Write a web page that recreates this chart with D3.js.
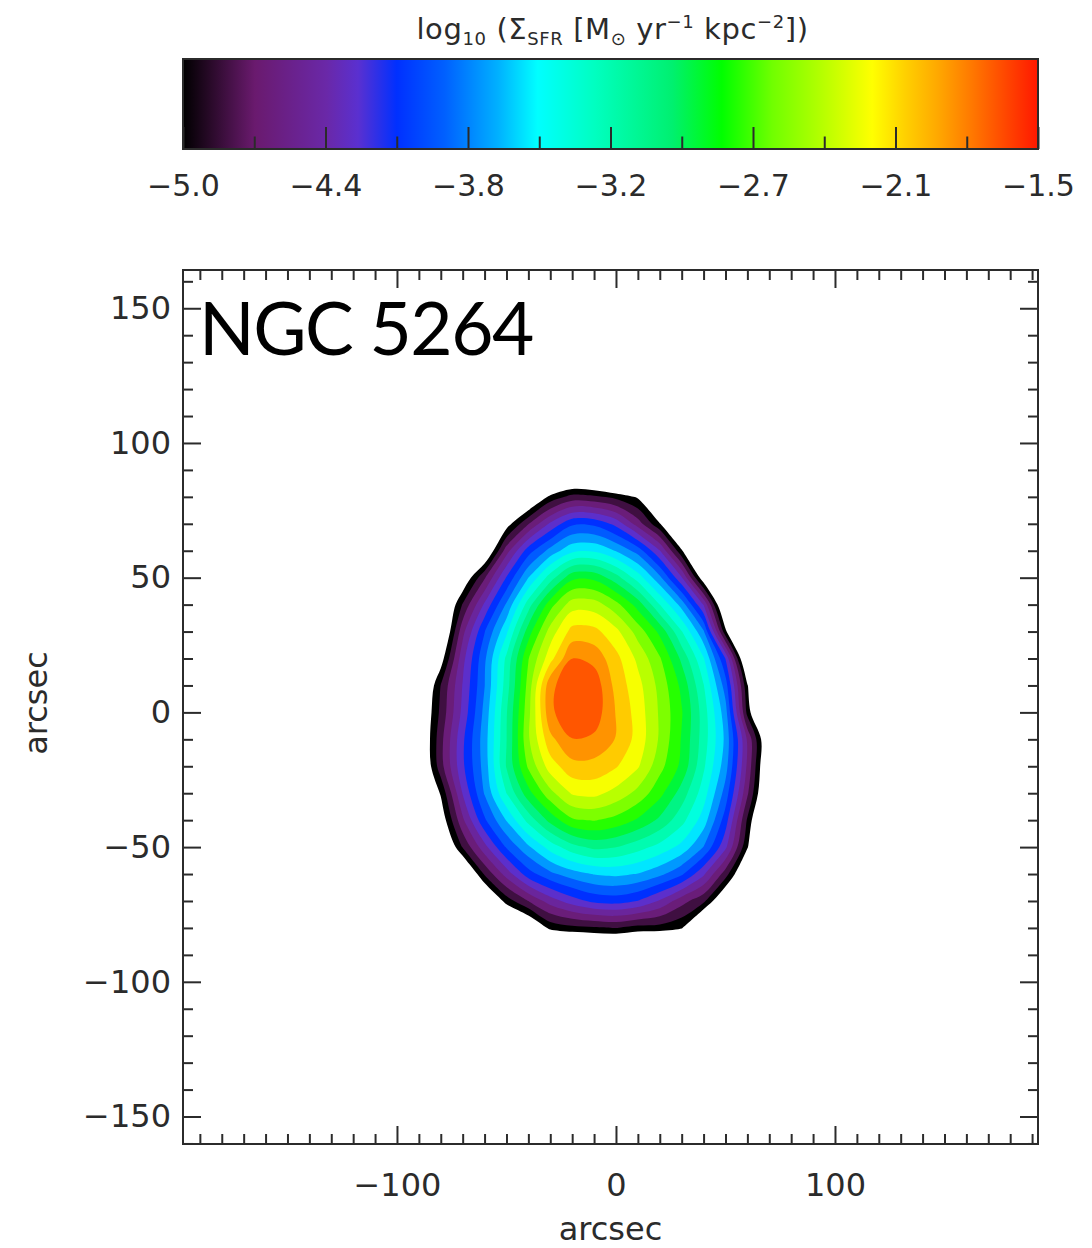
<!DOCTYPE html>
<html>
<head>
<meta charset="utf-8">
<title>NGC 5264 star formation rate surface density</title>
<script src="https://cdn.jsdelivr.net/npm/d3@7/dist/d3.min.js"></script>
<style>
  html, body { margin: 0; padding: 0; background: #ffffff; }
  svg { display: block; }
</style>
</head>
<body>
<svg id="chart" width="1092" height="1248" viewBox="0 0 1092 1248"></svg>
<script>
// ---------------------------------------------------------------- data
const galaxyName = "NGC 5264";

// map sampling positions, arcsec offsets from the optical centre
const gridX = [-90, -80, -70, -60, -50, -40, -30, -20, -10, 0, 10, 20, 30, 40, 50, 60, 70];
const gridY = [90, 80, 70, 60, 50, 40, 30, 20, 10, 0, -10, -20, -30, -40, -50, -60, -70, -80, -90];

// log10 Sigma_SFR [Msun yr^-1 kpc^-2]; one row per gridY entry, one column per gridX entry
const logSigmaSFR = [
  [-7.0, -7.0, -7.0, -7.0, -6.3, -6.0, -5.78, -5.58, -5.64, -5.85, -6.2, -6.6, -7.0, -7.0, -7.0, -7.0, -7.0],
  [-7.0, -7.0, -6.8, -6.15, -5.73, -5.34, -4.95, -4.76, -4.79, -4.88, -5.03, -5.8, -6.3, -6.8, -7.0, -7.0, -7.0],
  [-7.0, -6.6, -6.1, -5.6, -5.1, -4.66, -4.27, -3.98, -3.99, -4.18, -4.56, -4.98, -5.6, -6.2, -7.0, -7.0, -7.0],
  [-7.0, -6.13, -5.64, -5.3, -4.55, -4.03, -3.71, -3.47, -3.45, -3.61, -3.85, -4.29, -4.97, -5.7, -6.4, -7.0, -7.0],
  [-6.2, -5.69, -5.2, -4.67, -4.11, -3.6, -3.16, -2.77, -2.77, -3.0, -3.33, -3.73, -4.28, -5.15, -5.85, -6.6, -7.0],
  [-5.87, -5.4, -4.81, -4.27, -3.75, -3.16, -2.62, -2.28, -2.29, -2.49, -2.8, -3.25, -3.67, -4.31, -5.4, -6.1, -6.8],
  [-5.6, -5.35, -4.53, -3.96, -3.46, -2.81, -2.3, -1.96, -1.97, -2.15, -2.45, -2.77, -3.24, -3.75, -4.95, -5.9, -6.6],
  [-5.43, -5.1, -4.36, -3.81, -3.21, -2.56, -2.09, -1.676, -1.73, -1.97, -2.24, -2.53, -2.94, -3.41, -4.13, -5.4, -6.3],
  [-5.4, -4.82, -4.29, -3.78, -3.16, -2.48, -1.72, -1.55, -1.56, -1.91, -2.14, -2.43, -2.77, -3.24, -3.86, -4.98, -5.9],
  [-5.3, -4.78, -4.25, -3.72, -3.09, -2.43, -1.71, -1.55, -1.57, -1.86, -2.1, -2.4, -2.71, -3.16, -3.7, -4.88, -5.7],
  [-5.3, -4.71, -4.16, -3.68, -3.08, -2.4, -1.9, -1.68, -1.71, -1.86, -2.09, -2.4, -2.74, -3.16, -3.64, -4.5, -5.3],
  [-5.35, -4.72, -4.16, -3.7, -3.06, -2.52, -2.11, -1.91, -1.91, -2.01, -2.18, -2.49, -2.77, -3.22, -3.7, -4.51, -5.35],
  [-5.4, -4.98, -4.29, -3.76, -3.25, -2.79, -2.43, -2.18, -2.15, -2.26, -2.43, -2.67, -2.98, -3.34, -3.85, -4.62, -5.4],
  [-5.58, -5.15, -4.51, -3.98, -3.59, -3.19, -2.84, -2.58, -2.54, -2.61, -2.75, -2.94, -3.19, -3.51, -4.04, -4.85, -5.6],
  [-5.9, -5.4, -4.81, -4.36, -3.93, -3.63, -3.35, -3.14, -3.03, -3.07, -3.18, -3.31, -3.48, -3.78, -4.26, -4.98, -5.7],
  [-6.3, -5.66, -5.4, -4.8, -4.4, -4.03, -3.82, -3.68, -3.59, -3.56, -3.61, -3.73, -3.92, -4.27, -4.74, -5.35, -6.0],
  [-6.5, -6.2, -5.6, -5.4, -4.92, -4.65, -4.39, -4.21, -4.08, -4.05, -4.13, -4.32, -4.58, -4.78, -5.3, -6.0, -6.5],
  [-6.8, -6.5, -6.2, -6.0, -5.58, -5.3, -4.95, -4.88, -4.85, -4.82, -4.89, -4.9, -4.98, -5.5, -6.0, -6.5, -6.8],
  [-7.0, -7.0, -6.8, -6.6, -6.3, -6.0, -5.8, -5.7, -5.66, -5.66, -5.7, -5.75, -5.85, -6.2, -6.6, -7.0, -7.0]
];

// filled levels; everything below the first level is left blank
const contourLevels = [-5.0, -4.825, -4.65, -4.475, -4.3, -4.125, -3.95, -3.775, -3.6, -3.425,
                       -3.25, -3.075, -2.9, -2.725, -2.55, -2.375, -2.2, -2.025, -1.85, -1.675];

// colour bar
const colorRange = [-5.0, -1.5];
const colorTickLabels = ["\u22125.0", "\u22124.4", "\u22123.8", "\u22123.2", "\u22122.7", "\u22122.1", "\u22121.5"];

// colour table (rainbow with black floor)
const tableValues = [-5.0, -4.885, -4.706, -4.412, -4.283, -4.125, -3.929, -3.712, -3.548, -3.313,
                     -2.998, -2.795, -2.588, -2.4, -2.179, -2.043, -1.91, -1.77, -1.636, -1.5];
const tableColors = ["#000000", "#2a0a2a", "#6a1a6e", "#6a28a8", "#5a30d0", "#0030ff", "#0060ff", "#00b0ff", "#00ffff", "#00ffc0",
                     "#00f070", "#00ff00", "#70ff00", "#b0ff00", "#ffff00", "#ffd000", "#ffa800", "#ff7800", "#ff4800", "#ff1800"];

// map axes (arcsec)
const xExtent = [-197.7, 192.7];
const yExtent = [-160.2, 164.2];
const xMajorTicks = [-100, 0, 100];
const yMajorTicks = [-150, -100, -50, 0, 50, 100, 150];
const xMinorTicks = d3.range(-190, 191, 10).filter(v => !xMajorTicks.includes(v));
const yMinorTicks = d3.range(-160, 161, 10).filter(v => !yMajorTicks.includes(v));
const axisTitle = "arcsec";

// ---------------------------------------------------------------- layout
const ink = "#2b2b2b";
const labelFont = "DejaVu Sans, sans-serif";
const plot = { left: 183, right: 1038, top: 270, bottom: 1144 };
const bar = { left: 183, right: 1038, top: 59, bottom: 149 };

const svg = d3.select("#chart");

const x = d3.scaleLinear().domain(xExtent).range([plot.left, plot.right]);
const y = d3.scaleLinear().domain(yExtent).range([plot.bottom, plot.top]);
const color = d3.scaleLinear().domain(tableValues).range(tableColors).interpolate(d3.interpolateRgb).clamp(true);
const cbar = d3.scaleLinear().domain(colorRange).range([bar.left, bar.right]);

// ---------------------------------------------------------------- map
const defs = svg.append("defs");
defs.append("clipPath").attr("id", "plotClip")
  .append("rect")
  .attr("x", plot.left).attr("y", plot.top)
  .attr("width", plot.right - plot.left).attr("height", plot.bottom - plot.top);

const nx = gridX.length, ny = gridY.length;
const stepX = gridX[1] - gridX[0], stepY = gridY[1] - gridY[0];
const bands = d3.contours()
  .size([nx, ny])
  .thresholds(contourLevels)(logSigmaSFR.flat());

// contour coordinates put sample i at i + 0.5
const ringLine = d3.line()
  .x(p => x(gridX[0] + (p[0] - 0.5) * stepX))
  .y(p => y(gridY[0] + (p[1] - 0.5) * stepY))
  .curve(d3.curveCatmullRomClosed.alpha(0.5));

const bandPath = geom => geom.coordinates
  .map(poly => poly.map(ring => ringLine(ring.slice(0, -1))).join(""))
  .join("");

svg.append("g")
  .attr("clip-path", "url(#plotClip)")
  .selectAll("path")
  .data(bands.filter(b => b.coordinates.length))
  .join("path")
  .attr("d", bandPath)
  .attr("fill", d => color(d.value))
  .attr("fill-rule", "evenodd");

// ---------------------------------------------------------------- map frame and axes
function styleAxis(g, size) {
  g.attr("color", ink).attr("font-family", labelFont).attr("font-size", size);
  g.select(".domain").remove();
  g.selectAll("line").attr("stroke-width", 2);
  g.selectAll("text").attr("fill", ink);
}

const majorLen = 18, minorLen = 10;

// bottom
svg.append("g").attr("transform", `translate(0,${plot.bottom})`)
  .call(d3.axisBottom(x).tickValues(xMinorTicks).tickSize(-minorLen).tickFormat(""))
  .call(g => styleAxis(g, 32));
svg.append("g").attr("transform", `translate(0,${plot.bottom})`)
  .call(d3.axisBottom(x).tickValues(xMajorTicks).tickSize(-majorLen).tickPadding(29))
  .call(g => styleAxis(g, 32));
// top
svg.append("g").attr("transform", `translate(0,${plot.top})`)
  .call(d3.axisTop(x).tickValues(xMinorTicks).tickSize(-minorLen).tickFormat(""))
  .call(g => styleAxis(g, 32));
svg.append("g").attr("transform", `translate(0,${plot.top})`)
  .call(d3.axisTop(x).tickValues(xMajorTicks).tickSize(-majorLen).tickFormat(""))
  .call(g => styleAxis(g, 32));
// left
svg.append("g").attr("transform", `translate(${plot.left},0)`)
  .call(d3.axisLeft(y).tickValues(yMinorTicks).tickSize(-minorLen).tickFormat(""))
  .call(g => styleAxis(g, 32));
svg.append("g").attr("transform", `translate(${plot.left},0)`)
  .call(d3.axisLeft(y).tickValues(yMajorTicks).tickSize(-majorLen).tickPadding(12))
  .call(g => styleAxis(g, 32));
// right
svg.append("g").attr("transform", `translate(${plot.right},0)`)
  .call(d3.axisRight(y).tickValues(yMinorTicks).tickSize(-minorLen).tickFormat(""))
  .call(g => styleAxis(g, 32));
svg.append("g").attr("transform", `translate(${plot.right},0)`)
  .call(d3.axisRight(y).tickValues(yMajorTicks).tickSize(-majorLen).tickFormat(""))
  .call(g => styleAxis(g, 32));

svg.append("rect")
  .attr("x", plot.left).attr("y", plot.top)
  .attr("width", plot.right - plot.left).attr("height", plot.bottom - plot.top)
  .attr("fill", "none").attr("stroke", ink).attr("stroke-width", 2);

// axis titles
svg.append("text")
  .attr("x", (plot.left + plot.right) / 2).attr("y", 1240)
  .attr("text-anchor", "middle")
  .attr("font-family", labelFont).attr("font-size", 32).attr("fill", ink)
  .text(axisTitle);
svg.append("text")
  .attr("transform", `translate(47,${(plot.top + plot.bottom) / 2 - 4}) rotate(-90)`)
  .attr("text-anchor", "middle")
  .attr("font-family", labelFont).attr("font-size", 32).attr("fill", ink)
  .text(axisTitle);

// galaxy name
svg.append("text")
  .attr("x", 199).attr("y", 355)
  .attr("font-family", "Lato, 'Open Sans', sans-serif")
  .attr("font-size", 73).attr("letter-spacing", -1.5).attr("fill", "#000")
  .text(galaxyName);

// ---------------------------------------------------------------- colour bar
const grad = defs.append("linearGradient")
  .attr("id", "barGrad").attr("x1", "0%").attr("x2", "100%").attr("y1", "0%").attr("y2", "0%");
grad.selectAll("stop")
  .data(tableValues)
  .join("stop")
  .attr("offset", v => (cbar(v) - bar.left) / (bar.right - bar.left))
  .attr("stop-color", v => color(v));

svg.append("rect")
  .attr("x", bar.left).attr("y", bar.top)
  .attr("width", bar.right - bar.left).attr("height", bar.bottom - bar.top)
  .attr("fill", "url(#barGrad)");

const nTicks = colorTickLabels.length;
const barStep = (colorRange[1] - colorRange[0]) / (nTicks - 1);
const barMajor = colorTickLabels.map((_, i) => colorRange[0] + i * barStep);
const barMinor = barMajor.slice(0, -1).map(v => v + barStep / 2);

svg.append("g").attr("transform", `translate(0,${bar.bottom})`)
  .call(d3.axisBottom(cbar).tickValues(barMinor).tickSize(-12.5).tickFormat(""))
  .call(g => styleAxis(g, 30));
svg.append("g").attr("transform", `translate(0,${bar.bottom})`)
  .call(d3.axisBottom(cbar).tickValues(barMajor).tickSize(-22).tickPadding(26)
    .tickFormat((d, i) => colorTickLabels[i]))
  .call(g => styleAxis(g, 30));

svg.append("rect")
  .attr("x", bar.left).attr("y", bar.top)
  .attr("width", bar.right - bar.left).attr("height", bar.bottom - bar.top)
  .attr("fill", "none").attr("stroke", ink).attr("stroke-width", 2);

// colour bar title: log10 (Sigma_SFR [Msun yr^-1 kpc^-2])
const title = svg.append("text")
  .attr("x", (bar.left + bar.right) / 2 + 2).attr("y", 39)
  .attr("text-anchor", "middle")
  .attr("font-family", labelFont).attr("font-size", 29)
  .attr("letter-spacing", 0.6).attr("fill", ink);
const titleParts = [
  { t: "log", s: 0 }, { t: "10", s: 1 }, { t: " (\u03A3", s: 0 }, { t: "SFR", s: 1 },
  { t: " [M", s: 0 }, { t: "\u2299", s: 1 }, { t: " yr", s: 0 }, { t: "\u22121", s: -1 },
  { t: " kpc", s: 0 }, { t: "\u22122", s: -1 }, { t: "])", s: 0 }
];
let shift = 0;
titleParts.forEach(p => {
  const target = p.s === 1 ? 6 : p.s === -1 ? -11 : 0;
  title.append("tspan")
    .attr("dy", target - shift)
    .attr("font-size", p.s === 0 ? 29 : 18)
    .text(p.t);
  shift = target;
});
</script>
</body>
</html>
